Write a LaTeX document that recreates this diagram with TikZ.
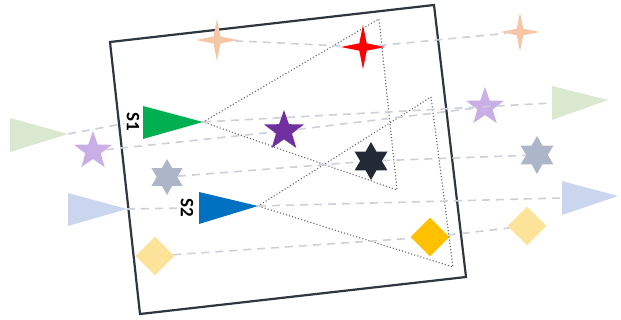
\documentclass[tikz,border=0pt]{standalone}
\usepackage{fontspec}
\setmainfont{Carlito}
\usetikzlibrary{shapes.geometric}
\definecolor{frameColor}{RGB}{46,54,64}
\definecolor{trackGray}{RGB}{204,208,216}
\definecolor{fovGray}{RGB}{100,100,100}
\definecolor{sensorGreen}{RGB}{0,176,80}
\definecolor{sensorBlue}{RGB}{0,112,192}
\definecolor{greenFade}{RGB}{218,232,208}
\definecolor{blueFade}{RGB}{202,214,238}
\definecolor{starRed}{RGB}{255,0,0}
\definecolor{orangeFade}{RGB}{246,199,166}
\definecolor{starPurple}{RGB}{112,48,160}
\definecolor{purpleFade}{RGB}{202,174,230}
\definecolor{starNavy}{RGB}{34,42,53}
\definecolor{grayFade}{RGB}{172,182,200}
\definecolor{diamondGold}{RGB}{255,192,0}
\definecolor{goldFade}{RGB}{253,226,154}

\begin{document}
\begin{tikzpicture}[x=1pt, y=-1pt,
    track/.style={line width=1.6pt, trackGray, dash pattern=on 8pt off 6pt},
    fov/.style={line width=1.5pt, fovGray, line cap=round, dash pattern=on 0pt off 3.2pt},
    fourstar/.style={star, star points=4, star point ratio=4.2, inner sep=0pt, minimum size=#1},
    fivestar/.style={star, star points=5, star point ratio=2.5, inner sep=0pt, minimum size=#1},
    sixstar/.style={star, star points=6, star point ratio=1.75, inner sep=0pt, minimum size=#1},
    gem/.style={diamond, inner sep=0pt, minimum size=#1},
    sensorlbl/.style={font=\fontsize{19}{19}\selectfont\bfseries, rotate=-90, inner sep=2pt}]
    \useasboundingbox (0,0) rectangle (621,320);
    % Frame
    \draw[line width=2.2pt, frameColor, line join=miter] (110,42) -- (434,5) -- (466,277) -- (140,314) -- cycle;
    % Faded triangles, left and right
    \fill[greenFade] (10,118) -- (68,134) -- (10,152) -- cycle;
    \coordinate (gfLtip) at (68,134);
    \fill[greenFade] (552,86) -- (608,100) -- (552,120) -- cycle;
    \coordinate (gfRbase) at (552,103);
    \fill[blueFade] (68,193) -- (127,209) -- (68,226) -- cycle;
    \coordinate (bfLtip) at (127,209);
    \fill[blueFade] (562,181) -- (618,196) -- (562,215) -- cycle;
    \coordinate (bfRbase) at (562,198);
    % Sensors
    \fill[sensorGreen] (143,106) -- (203,122) -- (143,139) -- cycle;
    \coordinate (s1tip) at (203,122);
    \node[sensorlbl] (s1lbl) at (133,122) {S1};
    \fill[sensorBlue] (199,192) -- (258,206) -- (199,224) -- cycle;
    \coordinate (s2tip) at (258,206);
    \node[sensorlbl] (s2lbl) at (187,208) {S2};
    % Targets
    \node[fourstar=42, fill=orangeFade] (ogL) at (217,40) {};
    \node[fourstar=44, fill=starRed] (red) at (363,47) {};
    \node[fourstar=39, fill=orangeFade] (ogR) at (520,32) {};
    \node[fivestar=40, fill=purpleFade] (pfL) at (93,151) {};
    \node[fivestar=42, fill=starPurple] (purple) at (284,131) {};
    \node[fivestar=40, fill=purpleFade] (pfR) at (485,107) {};
    \node[sixstar=36, fill=grayFade] (gsL) at (167,177) {};
    \node[sixstar=38, fill=starNavy] (navy) at (371,161) {};
    \node[sixstar=38, fill=grayFade] (gsR) at (537,155) {};
    \node[gem=39, fill=goldFade] (ydL) at (155,256) {};
    \node[gem=39, fill=diamondGold] (gold) at (430,237) {};
    \node[gem=39, fill=goldFade] (ydR) at (527,226) {};
    % Fields of view
    \coordinate (f1a) at (379,19);
    \coordinate (f1b) at (397,190);
    \draw[fov] (s1tip) -- (f1a) -- (f1b) -- (s1tip);
    \coordinate (f2a) at (431,97);
    \coordinate (f2b) at (453,267);
    \draw[fov] (s2tip) -- (f2a) -- (f2b) -- (s2tip);
    % Tracks
    \draw[track] (ogL) -- (red) -- (ogR);
    \draw[track] (gfLtip) -- (s1lbl);
    \draw[track] (s1tip) -- (gfRbase);
    \draw[track] (pfL) -- (purple) -- (pfR);
    \draw[track] (gsL) -- (navy) -- (gsR);
    \draw[track] (bfLtip) -- (s2lbl);
    \draw[track] (s2tip) -- (bfRbase);
    \draw[track] (ydL) -- (gold) -- (ydR);
\end{tikzpicture}
\end{document}
